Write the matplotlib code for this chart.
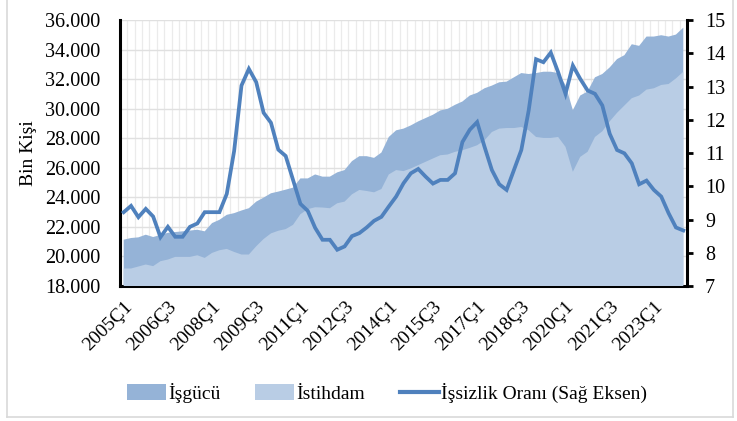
import matplotlib
matplotlib.use("Agg")
import matplotlib.pyplot as plt
import numpy as np
from matplotlib.lines import Line2D
from matplotlib.patches import Patch

plt.rcParams["font.family"] = ["Liberation Serif", "DejaVu Serif"]

# quarterly data 2005Ç1 - 2024Ç1 (bin kişi, %)
quarters = [f"{y}Ç{q}" for y in range(2005, 2025) for q in range(1, 5)][:77]

isgucu = [
    21135, 21247, 21292, 21472, 21315, 21450, 21600, 21650, 21700, 21750,
    21808, 21700, 22257, 22480, 22817, 22930, 23110, 23265, 23710, 23980,
    24275, 24390, 24520, 24655, 25280, 25280, 25550, 25400, 25400, 25690,
    25845, 26450, 26785, 26785, 26670, 27030, 28085, 28535, 28650, 28870,
    29140, 29365, 29590, 29880, 29990, 30260, 30485, 30890, 31070, 31380,
    31560, 31785, 31830, 32120, 32410, 32345, 32410, 32500, 32500, 32410,
    31600, 29900, 30890, 31160, 32120, 32345, 32790, 33355, 33620, 34360,
    34250, 34880, 34880, 34970, 34880, 35015, 35485,
]
istihdam = [
    19185, 19185, 19320, 19455, 19345, 19680, 19790, 19970, 19970, 19970,
    20080, 19900, 20240, 20420, 20510, 20305, 20130, 20130, 20690, 21180,
    21560, 21740, 21850, 22140, 22860, 23200, 23330, 23310, 23265, 23600,
    23710, 24205, 24500, 24430, 24340, 24565, 25550, 25845, 25775, 25955,
    26180, 26405, 26630, 26850, 26900, 27080, 27190, 27345, 27525, 27860,
    28420, 28650, 28690, 28690, 28760, 28535, 28085, 28020, 28020, 28085,
    27415, 25730, 26740, 27080, 28085, 28470, 29140, 29720, 30215, 30710,
    30890, 31290, 31380, 31605, 31670, 32050, 32500,
]
issizlik = [
    9.22, 9.41, 9.07, 9.32, 9.09, 8.47, 8.78, 8.48, 8.48, 8.78,
    8.88, 9.22, 9.22, 9.22, 9.77, 11.06, 13.03, 13.53, 13.13, 12.21,
    11.91, 11.10, 10.91, 10.19, 9.47, 9.26, 8.75, 8.39, 8.39, 8.09,
    8.19, 8.50, 8.59, 8.76, 8.96, 9.08, 9.39, 9.69, 10.09, 10.39,
    10.52, 10.29, 10.08, 10.19, 10.19, 10.39, 11.33, 11.70, 11.93, 11.19,
    10.49, 10.06, 9.89, 10.49, 11.09, 12.28, 13.82, 13.73, 14.02, 13.43,
    12.78, 13.63, 13.23, 12.88, 12.78, 12.43, 11.58, 11.09, 10.99, 10.69,
    10.06, 10.17, 9.89, 9.69, 9.19, 8.76, 8.67,
]

dark = "#95B3D7"
light = "#B9CDE5"
line_c = "#4F81BD"

x = np.arange(len(quarters))

fig = plt.figure(figsize=(7.37, 4.21), dpi=100)
ax = fig.add_axes([120 / 737, 1 - 286 / 421, (687 - 120) / 737, (286 - 20) / 421])

ax.fill_between(x, 0, isgucu, color=dark, linewidth=0, zorder=2)
ax.fill_between(x, 0, istihdam, color=light, linewidth=0, zorder=3)

ax.set_xlim(-0.5, len(x) - 0.5)
ax.set_ylim(18000, 36000)
ax.set_yticks(np.arange(18000, 36001, 2000))
ax.set_yticklabels([f"{v:,}".replace(",", ".") for v in range(18000, 36001, 2000)])
ax.set_xticks(x[::6])
ax.set_xticklabels(quarters[::6], rotation=45, ha="right", rotation_mode="anchor")
ax.set_xticks(np.arange(-0.5, len(x), 1), minor=True)
ax.tick_params(axis="x", which="both", length=0, pad=9, labelsize=14)
ax.tick_params(axis="y", length=0, pad=14, labelsize=14.5)
ax.set_axisbelow(True)
ax.grid(axis="y", which="major", color="#E0E0E0", linewidth=1)
ax.grid(axis="x", which="minor", color="#EBEBEB", linewidth=0.9)
ax.set_ylabel("Bin Kişi", fontsize=14, labelpad=6)

for s in ["top", "right"]:
    ax.spines[s].set_visible(False)
for s in ["left", "bottom"]:
    ax.spines[s].set_linewidth(2.2)
    ax.spines[s].set_color("black")

ax2 = ax.twinx()
ax2.plot(x, issizlik, color=line_c, linewidth=2.7, solid_joinstyle="miter")
ax2.set_ylim(7, 15)
ax2.set_yticks(range(7, 16))
ax2.tick_params(axis="y", length=4, width=2, pad=9, labelsize=14.5)
for s in ["top", "left", "bottom"]:
    ax2.spines[s].set_visible(False)
ax2.spines["right"].set_linewidth(2.2)

handles = [
    Patch(facecolor=dark, edgecolor="none"),
    Patch(facecolor=light, edgecolor="none"),
    Line2D([0], [0], color=line_c, linewidth=3),
]
fig.legend(
    handles,
    ["İşgücü", "İstihdam", "İşsizlik Oranı (Sağ Eksen)"],
    loc="center",
    bbox_to_anchor=(0.525, 1 - 393 / 421),
    ncol=3,
    frameon=False,
    fontsize=14,
    handlelength=2.0,
    handleheight=0.85,
    handletextpad=0.1,
    columnspacing=1.8,
)

# thin grey chart border
for xs, ys in [([7, 7], [0, 417]), ([7, 733], [417, 417]), ([733, 733], [0, 417])]:
    fig.add_artist(
        Line2D([v / 737 for v in xs], [1 - v / 421 for v in ys], color="#D9D9D9", linewidth=1.2)
    )

fig.savefig("out.png", dpi=100)
